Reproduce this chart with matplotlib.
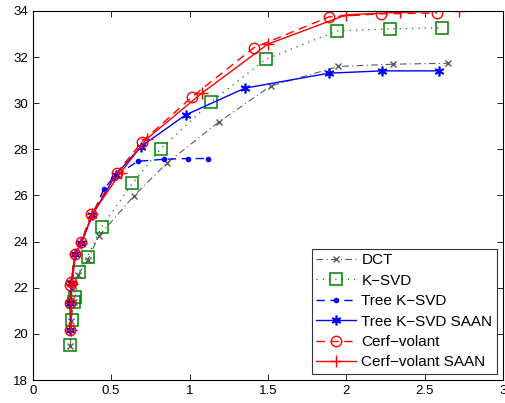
import matplotlib
matplotlib.use("Agg")
import matplotlib.pyplot as plt

plt.rcParams['font.family'] = ['Liberation Sans', 'DejaVu Sans']

# data
dct_x = [0.24, 0.245, 0.26, 0.289, 0.35, 0.421, 0.645, 0.853, 1.19, 1.52, 1.95, 2.30, 2.65]
dct_y = [19.49, 20.55, 21.4, 22.55, 23.2, 24.24, 25.98, 27.39, 29.2, 30.75, 31.59, 31.69, 31.73]

ksvd_x = [0.24, 0.247, 0.264, 0.27, 0.294, 0.349, 0.44, 0.636, 0.817, 1.136, 1.485, 1.94, 2.28, 2.61]
ksvd_y = [19.5, 20.6, 21.38, 21.59, 22.67, 23.35, 24.65, 26.53, 28.03, 30.04, 31.9, 33.13, 33.22, 33.26]

tree_x = [0.24, 0.24, 0.245, 0.27, 0.31, 0.38, 0.453, 0.512, 0.668, 0.838, 0.99, 1.115]
tree_y = [20.15, 21.35, 22.2, 23.45, 23.95, 25.15, 26.27, 26.77, 27.48, 27.57, 27.6, 27.6]

tree_saan_x = [0.24, 0.24, 0.245, 0.27, 0.31, 0.38, 0.53, 0.69, 0.975, 1.353, 1.89, 2.23, 2.59]
tree_saan_y = [20.15, 21.35, 22.2, 23.45, 23.95, 25.15, 26.9, 28.12, 29.49, 30.65, 31.3, 31.4, 31.4]

cerf_x = [0.24, 0.24, 0.24, 0.245, 0.268, 0.306, 0.374, 0.536, 0.696, 1.015, 1.41, 1.89, 2.22, 2.58]
cerf_y = [20.17, 21.35, 22.1, 22.25, 23.46, 23.97, 25.19, 26.98, 28.32, 30.27, 32.40, 33.74, 33.87, 33.91]

cerf_saan_x = [0.245, 0.245, 0.25, 0.272, 0.31, 0.38, 0.56, 0.727, 1.077, 1.50, 2.0, 2.34, 2.72]
cerf_saan_y = [20.15, 21.35, 22.15, 23.45, 23.95, 25.2, 26.99, 28.45, 30.43, 32.56, 33.83, 33.94, 34.0]

labels = ['DCT', 'K\u2212SVD', 'Tree K\u2212SVD', 'Tree K\u2212SVD SAAN', 'Cerf\u2212volant', 'Cerf\u2212volant SAAN']

fig = plt.figure(figsize=(5.05, 4.03), dpi=100)
ax = fig.add_axes([0.065, 0.057, 0.931, 0.916])

gray = (0.35, 0.35, 0.35)
green = (0.0, 0.5, 0.0)
dash = (0, (6, 4))
ax.plot(dct_x, dct_y, color=gray, ls=(0, (6, 3, 1, 3)), marker='x', ms=4, lw=0.8, label=labels[0])
ax.plot(ksvd_x, ksvd_y, color=green, ls=(0, (1, 4)), marker='s', ms=8.5, mfc='none', mew=1.1, lw=0.9, label=labels[1])
ax.plot(tree_x, tree_y, color='blue', ls=dash, marker='.', ms=6, lw=1.0, label=labels[2])
ax.plot(tree_saan_x, tree_saan_y, '-', color='blue', marker=(6, 2, 0), ms=7, mew=1.2, lw=1.0, label=labels[3])
ax.plot(cerf_x, cerf_y, color='red', ls=dash, marker='o', ms=7.5, mfc='none', mew=1.0, lw=1.0, label=labels[4])
ax.plot(cerf_saan_x, cerf_saan_y, '-', color='red', marker='+', ms=9, mew=1.0, lw=1.0, label=labels[5])

ax.set_xlim(0, 3)
ax.set_ylim(18, 34)
ax.set_xticks([0, 0.5, 1, 1.5, 2, 2.5, 3])
ax.set_xticklabels(['0', '0.5', '1', '1.5', '2', '2.5', '3'])
ax.set_yticks(range(18, 35, 2))
ax.tick_params(direction='in', top=True, right=True, labelsize=9.5, length=4, width=0.6)
for s in ax.spines.values():
    s.set_linewidth(0.8)

leg = ax.legend(loc='lower right', fontsize=11, fancybox=False, edgecolor='black',
                handlelength=2.6, handletextpad=0.35, borderaxespad=0.4, labelspacing=0.42,
                borderpad=0.3)
leg.get_frame().set_linewidth(0.8)

fig.savefig('out.png', dpi=100)
